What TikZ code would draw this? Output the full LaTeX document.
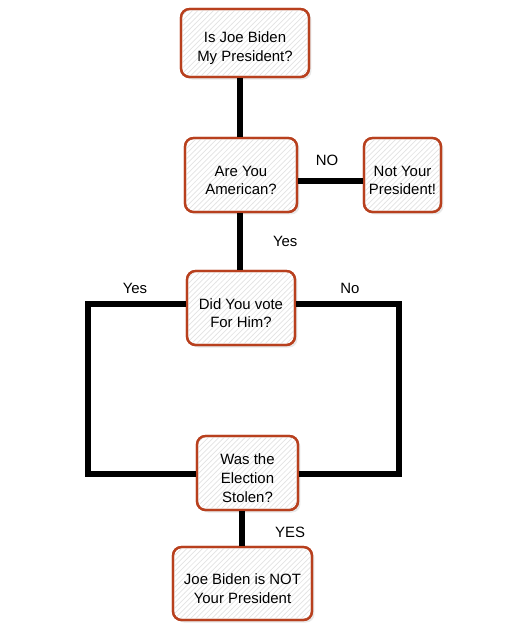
\documentclass[tikz,border=0pt]{standalone}
\usepackage{fontspec}
\setmainfont{Liberation Sans}
\usetikzlibrary{patterns,shadows}

\definecolor{boxred}{HTML}{B8401E}

% extra room above the first line, so the text sits a little low
\newcommand{\qstrut}{\rule{0pt}{12pt}}

\tikzset{
    qbox/.style={
        draw=boxred,
        line width=1.3pt,
        rounded corners=0.17cm,
        fill=white,
        postaction={pattern=north east lines,pattern color=gray!22},
        postaction={draw=boxred,line width=1.3pt},
        drop shadow={opacity=0.18,shadow xshift=0.05cm,shadow yshift=-0.05cm},
        align=center,
        inner sep=1pt,
        font=\fontsize{8.5}{10.6}\selectfont
    },
    link/.style={
        line width=3pt
    },
    lbl/.style={
        font=\fontsize{8.5}{10}\selectfont
    }
}

\begin{document}
\begin{tikzpicture}[x=0.02cm,y=-0.02cm]

    \useasboundingbox (0,0) rectangle (513,630);

    %------------------------------------------------
    % Question boxes
    %------------------------------------------------

    \node[qbox,minimum width=2.56cm,minimum height=1.36cm]
        (joe) at (245,43)
        {\qstrut Is Joe Biden\\My President?};

    \node[qbox,minimum width=2.24cm,minimum height=1.48cm]
        (american) at (241,175)
        {\qstrut Are You\\American?};

    \node[qbox,minimum width=1.54cm,minimum height=1.48cm]
        (notyours) at (402.5,175)
        {\qstrut Not Your\\President!};

    \node[qbox,minimum width=2.16cm,minimum height=1.48cm]
        (voted) at (241,308)
        {\qstrut Did You vote\\For Him?};

    \node[qbox,minimum width=2.02cm,minimum height=1.48cm]
        (stolen) at (247.5,473)
        {\qstrut Was the\\Election\\Stolen?};

    \node[qbox,minimum width=2.78cm,minimum height=1.46cm]
        (notpres) at (242.5,583.5)
        {\qstrut Joe Biden is NOT\\Your President};

    %------------------------------------------------
    % Corners of the two side loops
    %------------------------------------------------

    \coordinate (lefttop) at (88,304);
    \coordinate (leftbot) at (88,474);
    \coordinate (righttop) at (399,304);
    \coordinate (rightbot) at (399,474);

    %------------------------------------------------
    % Connectors
    %------------------------------------------------

    \draw[link]
        (joe.south -| 240,0)--(american.north -| 240,0);

    \draw[link]
        (american.east |- 0,181)--(notyours.west |- 0,181)
        node[lbl,midway,above=4pt,xshift=-2pt]{NO};

    \draw[link]
        (american.south -| 240,0)--(voted.north -| 240,0)
        node[lbl,midway,right=14pt]{Yes};

    \draw[link]
        (voted.west |- lefttop)--(lefttop)--(leftbot)--(stolen.west |- leftbot);

    \draw[link]
        (voted.east |- righttop)--(righttop)--(rightbot)--(stolen.east |- rightbot);

    \draw[link]
        (stolen.south -| 242,0)--(notpres.north -| 242,0)
        node[lbl,midway,right=14pt,yshift=-2pt]{YES};

    %------------------------------------------------
    % Branch labels
    %------------------------------------------------

    \node[lbl] (yeslbl) at (135,288) {Yes};
    \node[lbl] (nolbl) at (350,288) {No};

\end{tikzpicture}
\end{document}
